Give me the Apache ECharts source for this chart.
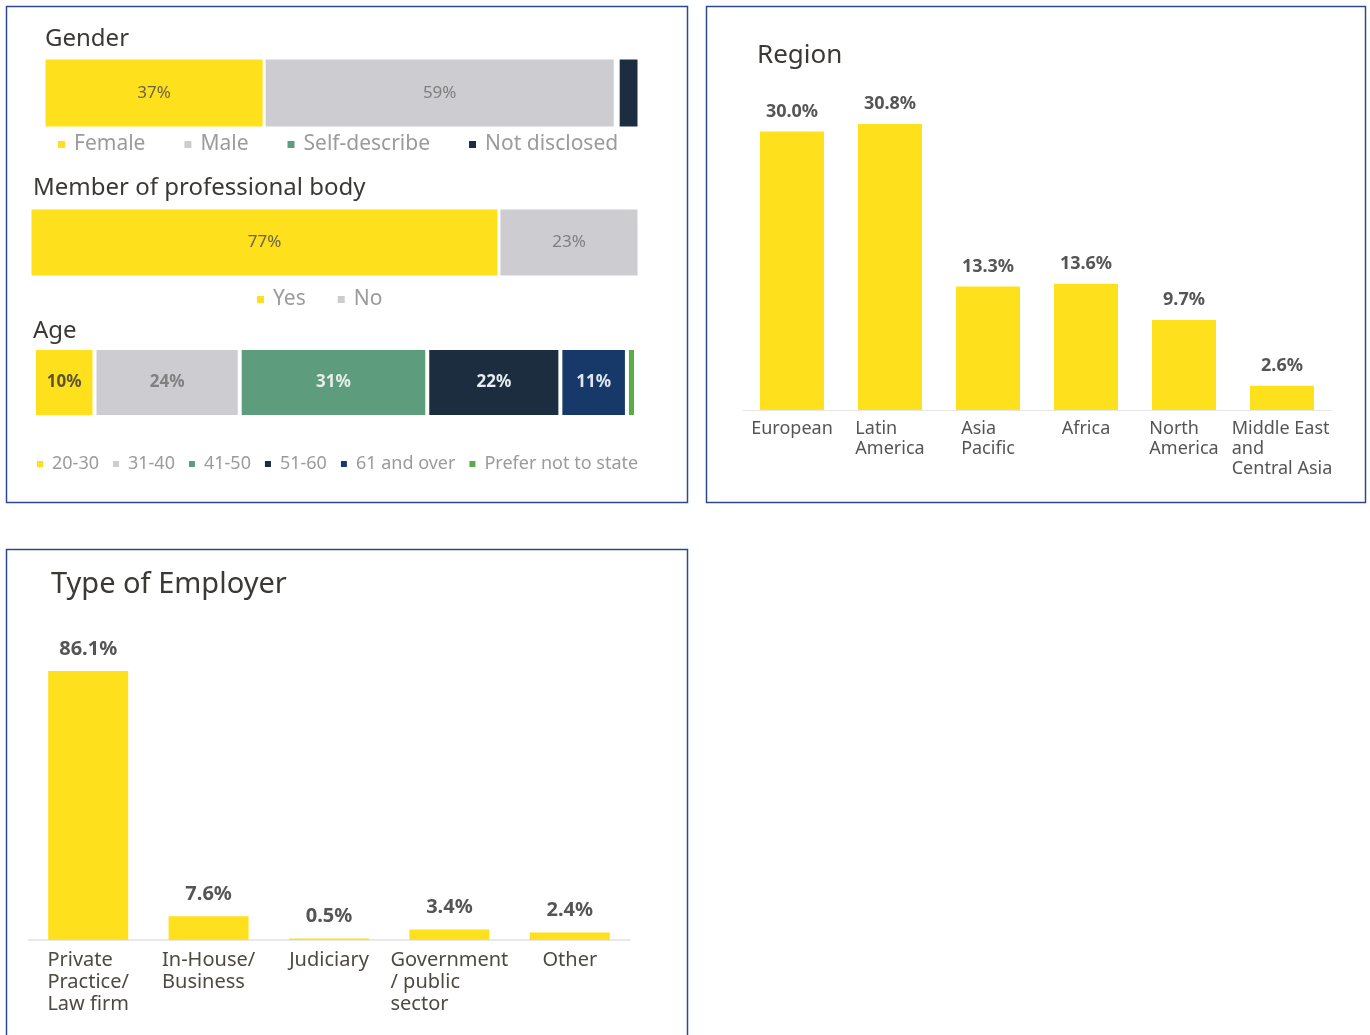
<!DOCTYPE html>
<html>
<head>
<meta charset="utf-8">
<script src="https://cdn.jsdelivr.net/npm/echarts@6/dist/echarts.min.js"></script>
<style>
html,body{margin:0;padding:0;background:#fff;}
#c{width:1370px;height:1035px;}
</style>
</head>
<body>
<div id="c"></div>
<script>
// ---- data ----
const genderCats = ['Female', 'Male', 'Self-describe', 'Not disclosed'];
const genderVals = [37, 59, 0.5, 3.5];
const memberCats = ['Yes', 'No'];
const memberVals = [77, 23];
const ageCats = ['20-30', '31-40', '41-50', '51-60', '61 and over', 'Prefer not to state'];
const ageVals = [10, 24, 31, 22, 11, 1.5];
const regionCats = ['European', 'Latin\nAmerica', 'Asia\nPacific', 'Africa', 'North\nAmerica', 'Middle East\nand\nCentral Asia'];
const regionVals = [30.0, 30.8, 13.3, 13.6, 9.7, 2.6];
const employerCats = ['Private\nPractice/\nLaw firm', 'In-House/\nBusiness', 'Judiciary', 'Government\n/ public\nsector', 'Other'];
const employerVals = [86.1, 7.6, 0.5, 3.4, 2.4];

// ---- styles ----
const FONT = 'Noto Sans';
const YEL = '#FFE01C', GREY = '#CDCDD1', TEAL = '#5D9C7D', DARK = '#1B2D3F', NAVY = '#16396A', GREEN = '#5BAB48';
const genderColors = [YEL, GREY, TEAL, DARK];
const genderLabelColors = ['#6b6445', '#7f7f7f', '#fff', '#fff'];
const memberColors = [YEL, GREY];
const memberLabelColors = ['#6b6445', '#7f7f7f'];
const ageColors = [YEL, GREY, TEAL, DARK, NAVY, GREEN];
const ageLabelColors = ['#5a5530', '#808080', '#e4f0e8', '#e8edf2', '#dfe8f2', '#fff'];

function sum(a){return a.reduce((s,v)=>s+v,0);}

function stackSeries(cats, vals, colors, labelColors, gridIdx, stackName, minShow, fontSize, weight, bw) {
  return cats.map((c, i) => ({
    type: 'bar', name: c, stack: stackName,
    xAxisIndex: gridIdx, yAxisIndex: gridIdx,
    barWidth: '100%',
    data: [vals[i]],
    itemStyle: {color: colors[i], borderColor: '#fff', borderWidth: bw},
    label: {
      show: vals[i] >= minShow, position: 'inside',
      formatter: p => Math.round(p.value) + '%',
      color: labelColors[i], fontSize: fontSize, fontFamily: FONT, fontWeight: weight
    },
    emphasis: {disabled: true}
  }));
}

function catLabelFormatter(v){
  return v.split('\n').map(l => '{a|' + l + '}').join('\n');
}

const chart = echarts.init(document.getElementById('c'), null, {renderer: 'canvas'});

const titleStyle = (size) => ({color: '#3b3935', fontSize: size, fontWeight: 'normal', fontFamily: FONT});

const option = {
  backgroundColor: '#fff',
  animation: false,
  title: [
    {text: 'Gender', left: 45, top: 27, padding: 0, textStyle: titleStyle(24)},
    {text: 'Member of professional body', left: 33, top: 176, padding: 0, textStyle: titleStyle(24)},
    {text: 'Age', left: 33, top: 319, padding: 0, textStyle: titleStyle(24)},
    {text: 'Region', left: 757, top: 43, padding: 0, textStyle: titleStyle(26)},
    {text: 'Type of Employer', left: 51, top: 570, padding: 0, textStyle: titleStyle(29)}
  ],
  legend: [
    {data: genderCats, left: 51, top: 129, icon: 'rect', itemWidth: 9, itemHeight: 9, itemGap: 37,
     textStyle: {color: '#9b9b9b', fontSize: 21, fontFamily: FONT, padding: [0,0,0,3]}, selectedMode: false},
    {data: memberCats, left: 250, top: 284, icon: 'rect', itemWidth: 9, itemHeight: 9, itemGap: 30,
     textStyle: {color: '#9b9b9b', fontSize: 21, fontFamily: FONT, padding: [0,0,0,3]}, selectedMode: false},
    {data: ageCats, left: 30, top: 450, icon: 'rect', itemWidth: 8, itemHeight: 8, itemGap: 12,
     textStyle: {color: '#9b9b9b', fontSize: 18, fontFamily: FONT, padding: [0,0,0,3]}, selectedMode: false}
  ],
  grid: [
    {left: 44, top: 58, width: 595, height: 70},
    {left: 30, top: 208, width: 609, height: 69},
    {left: 34, top: 348, width: 602, height: 69},
    {left: 743, top: 85, width: 588, height: 325},
    {left: 28, top: 627.5, width: 602, height: 312.5}
  ],
  xAxis: [
    {gridIndex: 0, type: 'value', min: 0, max: sum(genderVals), show: false},
    {gridIndex: 1, type: 'value', min: 0, max: sum(memberVals), show: false},
    {gridIndex: 2, type: 'value', min: 0, max: sum(ageVals), show: false},
    {gridIndex: 3, type: 'category', data: regionCats,
     axisLine: {show: true, lineStyle: {color: '#e6e6e6', width: 1}}, axisTick: {show: false},
     axisLabel: {interval: 0, margin: 9, align: 'center', formatter: catLabelFormatter,
       rich: {a: {align: 'left', fontSize: 18, lineHeight: 20, color: '#555', fontFamily: FONT}}}},
    {gridIndex: 4, type: 'category', data: employerCats,
     axisLine: {show: true, lineStyle: {color: '#e2e2e2', width: 1.5}}, axisTick: {show: false},
     axisLabel: {interval: 0, margin: 9, align: 'center', formatter: catLabelFormatter,
       rich: {a: {align: 'left', fontSize: 20, lineHeight: 22, color: '#4d4a42', fontFamily: FONT}}}}
  ],
  yAxis: [
    {gridIndex: 0, type: 'category', data: [''], show: false},
    {gridIndex: 1, type: 'category', data: [''], show: false},
    {gridIndex: 2, type: 'category', data: [''], show: false},
    {gridIndex: 3, type: 'value', min: 0, max: 35, show: false},
    {gridIndex: 4, type: 'value', min: 0, max: 100, show: false}
  ],
  series: [].concat(
    stackSeries(genderCats, genderVals, genderColors, genderLabelColors, 0, 'g', 5, 17, 'normal', 1.5),
    stackSeries(memberCats, memberVals, memberColors, memberLabelColors, 1, 'm', 5, 17, 'normal', 1.5),
    stackSeries(ageCats, ageVals, ageColors, ageLabelColors, 2, 'a', 5, 17, 'bold', 2),
    [{
      type: 'bar', name: 'Region', xAxisIndex: 3, yAxisIndex: 3, barWidth: 64,
      data: regionVals, itemStyle: {color: YEL},
      label: {show: true, position: 'top', distance: 11, formatter: p => p.value.toFixed(1) + '%',
        color: '#555', fontSize: 18, fontWeight: 'bold', fontFamily: FONT},
      emphasis: {disabled: true}
    }, {
      type: 'bar', name: 'Employer', xAxisIndex: 4, yAxisIndex: 4, barWidth: 80,
      data: employerVals, itemStyle: {color: YEL},
      label: {show: true, position: 'top', distance: 12, formatter: p => p.value.toFixed(1) + '%',
        color: '#555', fontSize: 20, fontWeight: 'bold', fontFamily: FONT},
      emphasis: {disabled: true}
    }]
  ),
  graphic: [
    {type: 'rect', shape: {x: 6.5, y: 6.5, width: 681, height: 496}, style: {fill: null, stroke: '#2d4b8a', lineWidth: 1.5}, z: 100},
    {type: 'rect', shape: {x: 706.5, y: 6.5, width: 659, height: 496}, style: {fill: null, stroke: '#2d4b8a', lineWidth: 1.5}, z: 100},
    {type: 'rect', shape: {x: 6.5, y: 549.5, width: 681, height: 600}, style: {fill: null, stroke: '#2d4b8a', lineWidth: 1.5}, z: 100}
  ]
};
chart.setOption(option);
</script>
</body>
</html>
